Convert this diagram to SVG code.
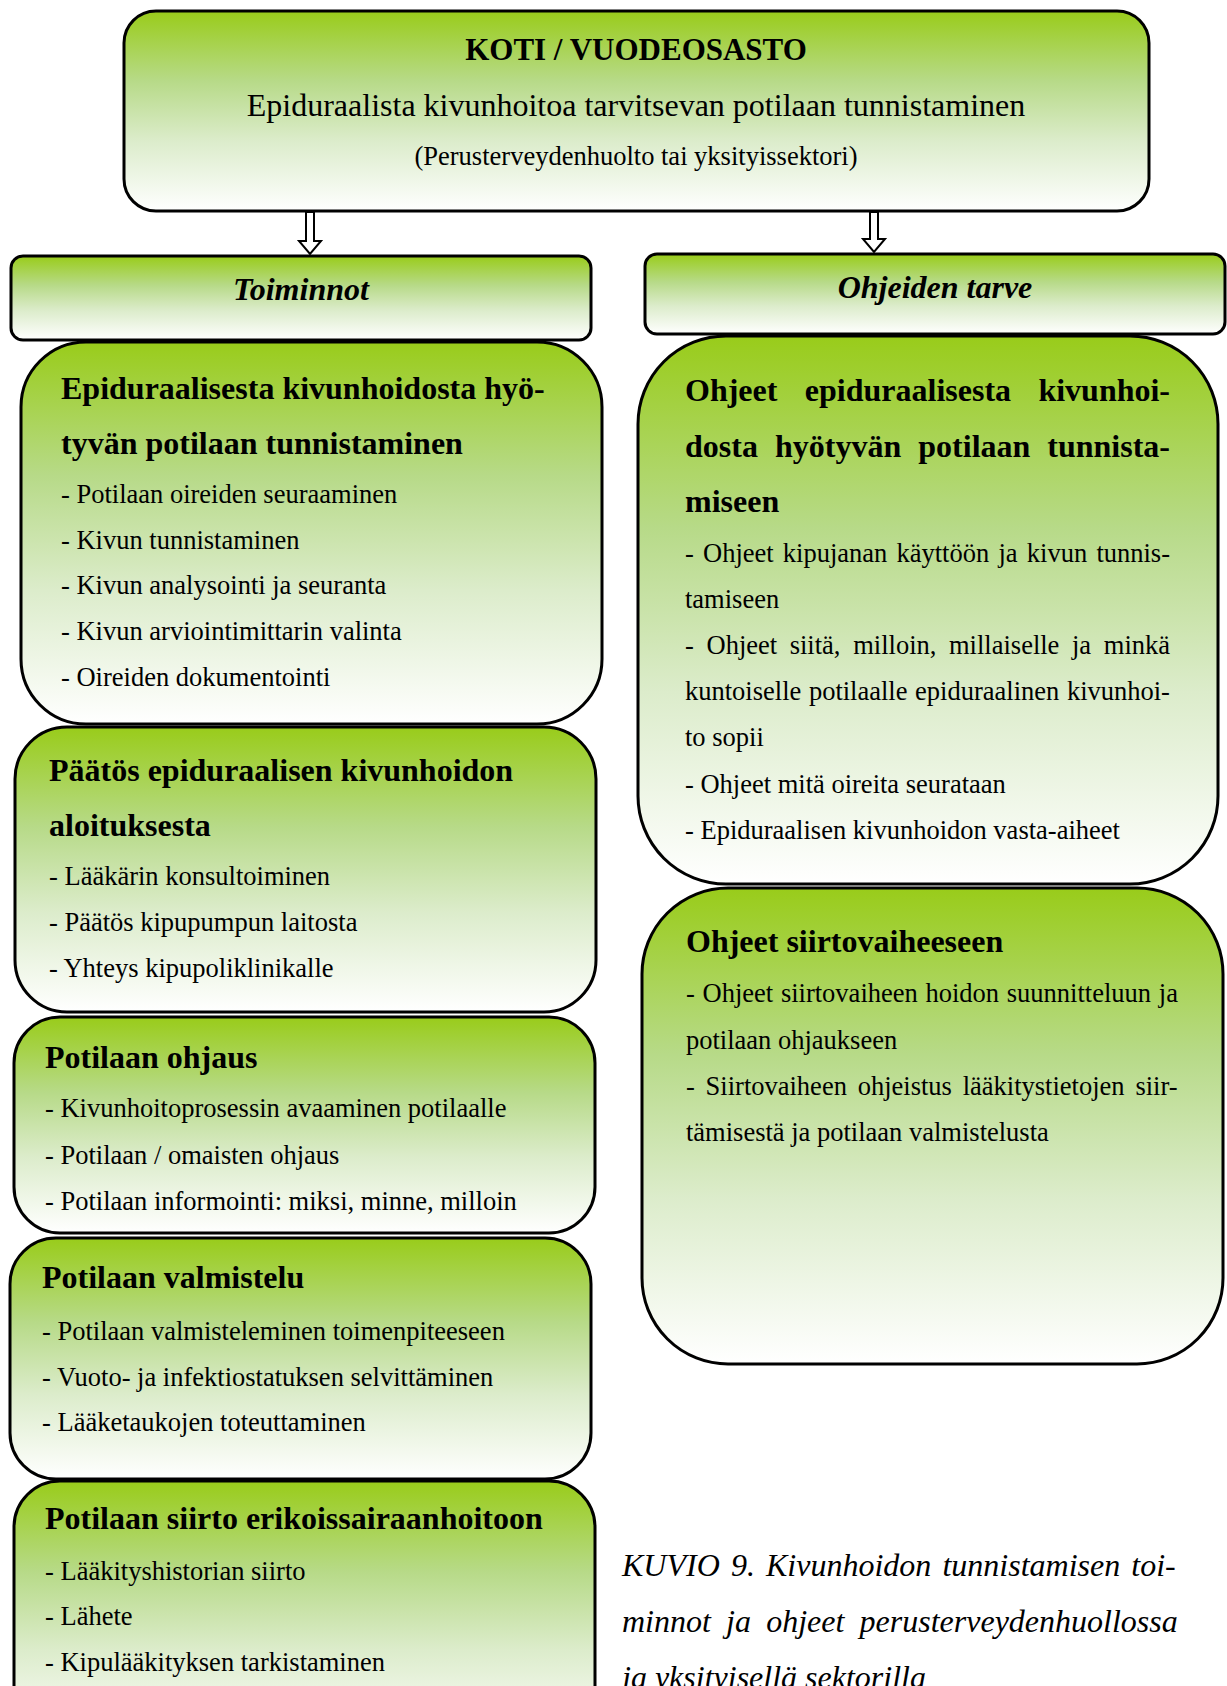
<svg xmlns="http://www.w3.org/2000/svg" width="1227" height="1686" viewBox="0 0 1227 1686">
<defs>
<linearGradient id="g" x1="0" y1="0" x2="0" y2="1">
<stop offset="0" stop-color="#99CC1A"/>
<stop offset="0.35" stop-color="#B7DA88"/>
<stop offset="0.65" stop-color="#DCECCB"/>
<stop offset="1" stop-color="#FFFFFF"/>
</linearGradient>
<style>
.box{fill:url(#g);stroke:#000;stroke-width:3}
text{font-family:"Liberation Serif","Times New Roman",serif;fill:#000}
.h{font-size:32px;font-weight:bold}
.t{font-size:26.5px}
.top{font-size:31px;font-weight:bold}
.sub{font-size:32px}
.hi{font-size:32px;font-weight:bold;font-style:italic}
.cap{font-size:32px;font-style:italic}
.arr{fill:#fff;stroke:#000;stroke-width:2}
</style>
</defs>
<rect width="1227" height="1686" fill="#fff"/>

<g id="top">
<rect class="box" x="124" y="11" width="1025" height="200" rx="32"/>
<text class="top" x="636" y="60" text-anchor="middle">KOTI / VUODEOSASTO</text>
<text class="sub" x="636" y="116" text-anchor="middle">Epiduraalista kivunhoitoa tarvitsevan potilaan tunnistaminen</text>
<text class="t" x="636" y="165" text-anchor="middle">(Perusterveydenhuolto tai yksityissektori)</text>
</g>

<g id="connectors">
<polygon class="arr" points="306,212 314,212 314,241 321,241 310,254 299,241 306,241"/>
<polygon class="arr" points="870,212 878,212 878,239 885,239 874,252 863,239 870,239"/>
</g>

<g id="toiminnot">
<rect class="box" x="11" y="256" width="580" height="84" rx="12"/>
<text class="hi" x="301" y="300" text-anchor="middle">Toiminnot</text>
</g>

<g id="ohjeiden-tarve">
<rect class="box" x="645" y="254" width="580" height="80" rx="12"/>
<text class="hi" x="935" y="298" text-anchor="middle">Ohjeiden tarve</text>
</g>

<g id="box-a">
<rect class="box" x="21" y="342" width="581" height="382" rx="65"/>
<text class="h" x="61" y="399">Epiduraalisesta kivunhoidosta hyö-</text>
<text class="h" x="61" y="454">tyvän potilaan tunnistaminen</text>
<text class="t" x="61" y="503">- Potilaan oireiden seuraaminen</text>
<text class="t" x="61" y="549">- Kivun tunnistaminen</text>
<text class="t" x="61" y="594">- Kivun analysointi ja seuranta</text>
<text class="t" x="61" y="640">- Kivun arviointimittarin valinta</text>
<text class="t" x="61" y="686">- Oireiden dokumentointi</text>
</g>

<g id="box-b">
<rect class="box" x="15" y="727" width="581" height="285" rx="52"/>
<text class="h" x="49" y="781">Päätös epiduraalisen kivunhoidon</text>
<text class="h" x="49" y="836">aloituksesta</text>
<text class="t" x="49" y="885">- Lääkärin konsultoiminen</text>
<text class="t" x="49" y="931">- Päätös kipupumpun laitosta</text>
<text class="t" x="49" y="977">- Yhteys kipupoliklinikalle</text>
</g>

<g id="box-c">
<rect class="box" x="14" y="1017" width="581" height="216" rx="46"/>
<text class="h" x="45" y="1068">Potilaan ohjaus</text>
<text class="t" x="45" y="1117">- Kivunhoitoprosessin avaaminen potilaalle</text>
<text class="t" x="45" y="1164">- Potilaan / omaisten ohjaus</text>
<text class="t" x="45" y="1210">- Potilaan informointi: miksi, minne, milloin</text>
</g>

<g id="box-d">
<rect class="box" x="10" y="1238" width="581" height="241" rx="46"/>
<text class="h" x="42" y="1288">Potilaan valmistelu</text>
<text class="t" x="42" y="1340">- Potilaan valmisteleminen toimenpiteeseen</text>
<text class="t" x="42" y="1386">- Vuoto- ja infektiostatuksen selvittäminen</text>
<text class="t" x="42" y="1431">- Lääketaukojen toteuttaminen</text>
</g>

<g id="box-e">
<rect class="box" x="14" y="1481" width="581" height="260" rx="46"/>
<text class="h" x="45" y="1529">Potilaan siirto erikoissairaanhoitoon</text>
<text class="t" x="45" y="1580">- Lääkityshistorian siirto</text>
<text class="t" x="45" y="1625">- Lähete</text>
<text class="t" x="45" y="1671">- Kipulääkityksen tarkistaminen</text>
</g>

<g id="box-f">
<rect class="box" x="638" y="336" width="580" height="548" rx="88"/>
<text class="h" y="401"><tspan x="685">Ohjeet</tspan><tspan x="804.8">epiduraalisesta</tspan><tspan x="1038.4">kivunhoi-</tspan></text>
<text class="h" y="457"><tspan x="685">dosta</tspan><tspan x="775">hyötyvän</tspan><tspan x="918.3">potilaan</tspan><tspan x="1047.3">tunnista-</tspan></text>
<text class="h" x="685" y="512">miseen</text>
<text class="t" y="562"><tspan x="685">-</tspan><tspan x="703">Ohjeet</tspan><tspan x="782.8">kipujanan</tspan><tspan x="896.5">käyttöön</tspan><tspan x="998.5">ja</tspan><tspan x="1026.8">kivun</tspan><tspan x="1096.4">tunnis-</tspan></text>
<text class="t" x="685" y="608">tamiseen</text>
<text class="t" y="654"><tspan x="685">-</tspan><tspan x="706.5">Ohjeet</tspan><tspan x="789.7">siitä,</tspan><tspan x="853.2">milloin,</tspan><tspan x="949">millaiselle</tspan><tspan x="1072">ja</tspan><tspan x="1103.8">minkä</tspan></text>
<text class="t" y="700"><tspan x="685">kuntoiselle</tspan><tspan x="808.9">potilaalle</tspan><tspan x="915.1">epiduraalinen</tspan><tspan x="1066.9">kivunhoi-</tspan></text>
<text class="t" x="685" y="746">to sopii</text>
<text class="t" x="685" y="793">- Ohjeet mitä oireita seurataan</text>
<text class="t" x="685" y="839">- Epiduraalisen kivunhoidon vasta-aiheet</text>
</g>

<g id="box-g">
<rect class="box" x="642" y="888" width="581" height="476" rx="86"/>
<text class="h" x="686" y="952">Ohjeet siirtovaiheeseen</text>
<text class="t" y="1002"><tspan x="686">-</tspan><tspan x="702.5">Ohjeet</tspan><tspan x="780.9">siirtovaiheen</tspan><tspan x="925.5">hoidon</tspan><tspan x="1006.8">suunnitteluun</tspan><tspan x="1158.8">ja</tspan></text>
<text class="t" x="686" y="1049">potilaan ohjaukseen</text>
<text class="t" y="1095"><tspan x="686">-</tspan><tspan x="705.6">Siirtovaiheen</tspan><tspan x="857.7">ohjeistus</tspan><tspan x="962.7">lääkitystietojen</tspan><tspan x="1135.4">siir-</tspan></text>
<text class="t" x="686" y="1141">tämisestä ja potilaan valmistelusta</text>
</g>

<g id="caption">
<text class="cap" y="1576"><tspan x="622">KUVIO</tspan><tspan x="730.9">9.</tspan><tspan x="766">Kivunhoidon</tspan><tspan x="942.4">tunnistamisen</tspan><tspan x="1131.3">toi-</tspan></text>
<text class="cap" y="1632"><tspan x="622">minnot</tspan><tspan x="726.1">ja</tspan><tspan x="766.2">ohjeet</tspan><tspan x="859.6">perusterveydenhuollossa</tspan></text>
<text class="cap" x="622" y="1688">ja yksityisellä sektorilla</text>
</g>
</svg>
